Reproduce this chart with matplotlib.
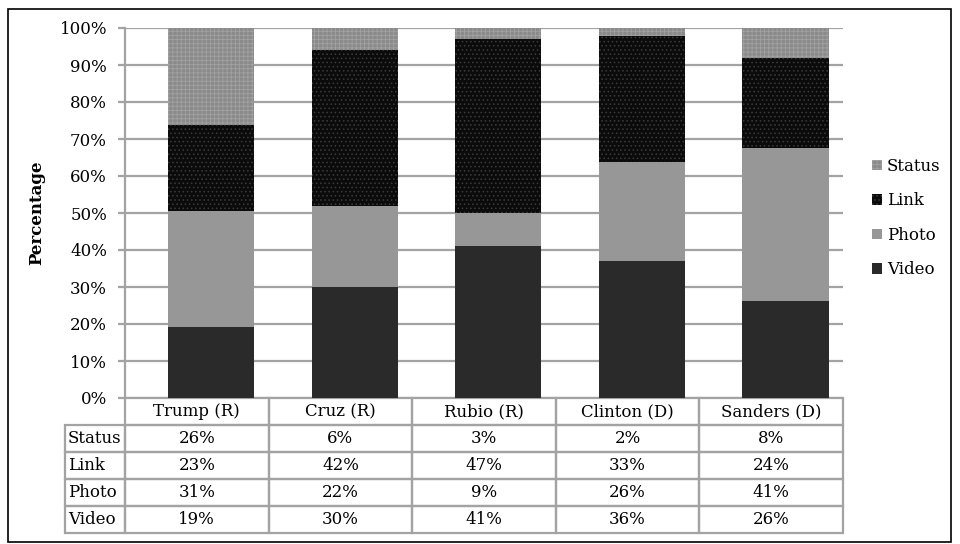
"""Share of Facebook post types per candidate, 100% stacked bars with data table."""

import matplotlib.pyplot as plt
import numpy as np
from matplotlib.patches import Rectangle
from matplotlib.transforms import blended_transform_factory

candidates = ["Trump (R)", "Cruz (R)", "Rubio (R)", "Clinton (D)", "Sanders (D)"]
series = ["Video", "Photo", "Link", "Status"]
video = [19, 30, 41, 36, 26]
photo = [31, 22, 9, 26, 41]
link = [23, 42, 47, 33, 24]
status = [26, 6, 3, 2, 8]

plt.rcParams["font.family"] = ["DejaVu Serif"]
plt.rcParams["hatch.linewidth"] = 0.6

values = np.array([video, photo, link, status], dtype=float)
shares = values / values.sum(axis=0) * 100

styles = {
    "Video": dict(color="#2a2a2a"),
    "Photo": dict(color="#979797"),
    "Link": dict(color="#0b0b0b", hatch="....", edgecolor="#3c3c3c", linewidth=0),
    "Status": dict(color="#8a8a8a", hatch="++++", edgecolor="#a2a2a2", linewidth=0),
}

fig = plt.figure(figsize=(9.6, 5.44), dpi=100)
ax = fig.add_axes([125 / 960, 1 - 398 / 544, 718 / 960, 370 / 544])

# bars sit a little right of the table column centres in the original
x = np.arange(len(candidates)) + 0.1
bottom = np.zeros(len(candidates))
handles = {}
for name, row in zip(series, shares):
    bars = ax.bar(x, row, 0.6, bottom=bottom, label=name, zorder=3, **styles[name])
    handles[name] = bars
    bottom += row

grid_c = "#a3a3a3"
ax.set_xlim(-0.5, len(candidates) - 0.5)
ax.set_ylim(0, 100)
ax.set_yticks(np.arange(0, 101, 10))
ax.set_yticklabels([f"{v}%" for v in range(0, 101, 10)], fontsize=12)
ax.yaxis.grid(True, color=grid_c, linewidth=1.6, zorder=0)
ax.set_xticks([])
for side in ["top", "right", "bottom"]:
    ax.spines[side].set_visible(False)
ax.spines["left"].set_color(grid_c)
ax.spines["left"].set_linewidth(1.6)
ax.tick_params(axis="y", color=grid_c, width=1.6, length=5, pad=8)
ax.set_ylabel("Percentage", fontsize=12, fontweight="bold", labelpad=10)

# data table under the axes, drawn cell by cell
trans = blended_transform_factory(ax.transData, ax.transAxes)
row_h = 27 / 370
label_left = -0.5 - 60 / 143.6
cell_kw = dict(transform=trans, clip_on=False, fill=False, edgecolor=grid_c, linewidth=1.6)

for j, cand in enumerate(candidates):
    ax.add_patch(Rectangle((j - 0.5, -row_h), 1, row_h, **cell_kw))
    ax.text(j, -row_h / 2, cand, transform=trans, ha="center", va="center", fontsize=12)

table_rows = list(zip(series, values))[::-1]
for i, (name, row) in enumerate(table_rows):
    y0 = -row_h * (i + 2)
    ax.add_patch(Rectangle((label_left, y0), -0.5 - label_left, row_h, **cell_kw))
    ax.text(label_left + 0.02, y0 + row_h / 2, name, transform=trans,
            ha="left", va="center", fontsize=12)
    for j, v in enumerate(row):
        ax.add_patch(Rectangle((j - 0.5, y0), 1, row_h, **cell_kw))
        ax.text(j, y0 + row_h / 2, f"{int(v)}%", transform=trans,
                ha="center", va="center", fontsize=12)

order = ["Status", "Link", "Photo", "Video"]
fig.legend([handles[n] for n in order], order, loc="center left",
           bbox_to_anchor=(872 / 960, 1 - 218 / 544), frameon=False,
           fontsize=12, handlelength=0.6, handleheight=0.6, handletextpad=0.3,
           labelspacing=1.05, borderaxespad=0, borderpad=0)

# outer frame
fig.add_artist(Rectangle((8 / 960, 2 / 544), 943 / 960, 533 / 544, transform=fig.transFigure,
                         fill=False, edgecolor="black", linewidth=1.2))

fig.savefig("out.png", dpi=100)
